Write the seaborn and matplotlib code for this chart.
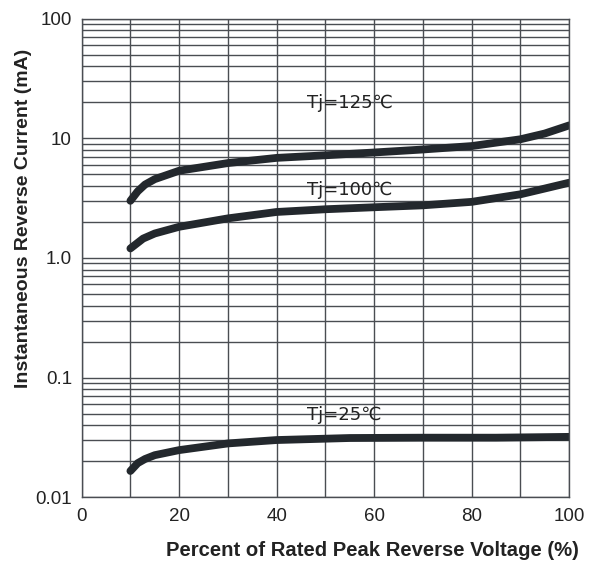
import matplotlib
matplotlib.use("Agg")
import matplotlib.pyplot as plt
import seaborn as sns
import pandas as pd
import numpy as np
from matplotlib.ticker import FixedLocator, NullFormatter, LogLocator

# ---- data ----
x125 = [10, 11.5, 13, 15, 20, 30, 40, 50, 60, 70, 80, 90, 95, 100]
y125 = [3.0, 3.6, 4.1, 4.55, 5.35, 6.2, 6.85, 7.2, 7.6, 8.05, 8.6, 9.8, 10.95, 12.8]

x100 = [10, 12.6, 15, 20, 30, 40, 50, 60, 70, 80, 90, 95, 100]
y100 = [1.2, 1.45, 1.6, 1.82, 2.14, 2.42, 2.55, 2.65, 2.75, 2.94, 3.4, 3.8, 4.25]

x25 = [10, 11.5, 13, 15, 20, 30, 40, 55, 70, 85, 100]
y25 = [0.0166, 0.0193, 0.0209, 0.0225, 0.0248, 0.0282, 0.0301, 0.0313, 0.0315, 0.0315, 0.032]

series_names = ["Tj=125\u2103", "Tj=100\u2103", "Tj=25\u2103"]
label_x = [46.3, 46.3, 46.3]
label_y = [19.6, 3.68, 0.0488]

x_ticks = [0, 20, 40, 60, 80, 100]
y_ticks = [0.01, 0.1, 1.0, 10, 100]
y_ticklabels = ["0.01", "0.1", "1.0", "10", "100"]

df = pd.concat([
    pd.DataFrame({"x": x125, "y": y125, "s": series_names[0]}),
    pd.DataFrame({"x": x100, "y": y100, "s": series_names[1]}),
    pd.DataFrame({"x": x25, "y": y25, "s": series_names[2]}),
])

sns.set_theme(style="white")
plt.rcParams["font.family"] = ["Liberation Sans Narrow", "Liberation Sans", "DejaVu Sans"]

fig = plt.figure(figsize=(5.96, 5.61), dpi=100)
ax = fig.add_axes([0.137, 0.1135, 0.818, 0.8535])

line_color = "#23282d"
sns.lineplot(data=df, x="x", y="y", hue="s", palette=[line_color] * 3,
             legend=False, ax=ax, linewidth=5.6, solid_capstyle="round",
             solid_joinstyle="round", sort=True, estimator=None)

ax.set_yscale("log")
ax.set_xlim(0, 100)
ax.set_ylim(0.01, 100)

ax.xaxis.set_major_locator(FixedLocator(x_ticks))
ax.xaxis.set_minor_locator(FixedLocator(list(range(0, 101, 10))))
ax.yaxis.set_major_locator(FixedLocator(y_ticks))
ax.yaxis.set_minor_locator(LogLocator(base=10, subs=np.arange(2, 10)))
ax.yaxis.set_minor_formatter(NullFormatter())
ax.set_xticklabels([str(t) for t in x_ticks])
ax.set_yticklabels(y_ticklabels)

ax.grid(True, which="both", axis="both", color="#4a4d52", linewidth=1.0)
ax.set_axisbelow(True)
ax.tick_params(axis="both", which="both", length=0, labelsize=13.5,
               labelcolor="#222222")
ax.tick_params(axis="x", pad=8)
ax.tick_params(axis="y", pad=7)
for sp in ax.spines.values():
    sp.set_color("#4a4d52")
    sp.set_linewidth(1.0)

ax.set_xlabel("")
ax.set_ylabel("")

for name, lx, ly in zip(series_names, label_x, label_y):
    ax.text(lx, ly, name, fontsize=13, color="#222222", va="center", ha="left",
            family=["Liberation Sans Narrow", "DejaVu Sans"])

fig.text(372 / 596, 1 - 550 / 561, "Percent of Rated Peak Reverse Voltage (%)",
         ha="center", va="center", fontsize=14.6, fontweight="bold",
         family=["Liberation Sans", "DejaVu Sans"], color="#222222")
fig.text(24 / 596, 1 - 218 / 561, "Instantaneous Reverse Current (mA)",
         ha="center", va="center", rotation=90, fontsize=14, fontweight="bold",
         family=["Liberation Sans", "DejaVu Sans"], color="#222222")

fig.savefig("out.png", dpi=100)
